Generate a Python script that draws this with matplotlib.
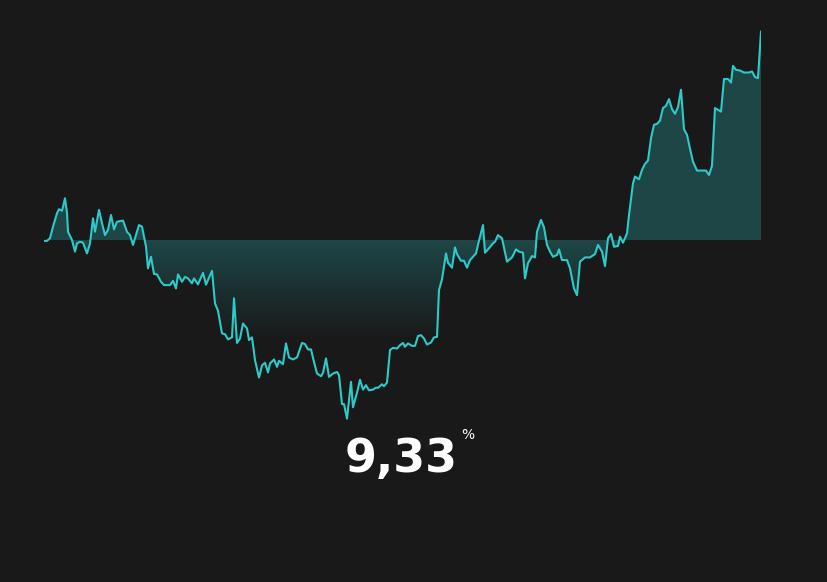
import numpy as np
import matplotlib
matplotlib.use("Agg")
import matplotlib.pyplot as plt

# cumulative return (%) by trading day
days = [0, 3, 6, 9, 13, 15, 18, 19, 21, 23, 24, 28, 31, 33, 36, 39, 43, 46, 49, 51,
        55, 58, 61, 64, 67, 70, 73, 79, 83, 86, 89, 92, 95, 98, 100, 102, 104, 107, 110, 113,
        117, 120, 126, 129, 132, 134, 138, 141, 144, 148, 150, 154, 159, 162, 168, 171, 174, 178, 181, 184,
        188, 190, 193, 196, 199, 203, 205, 208, 211, 215, 218, 221, 224, 226, 230, 233, 235, 239, 242, 245,
        249, 253, 258, 261, 264, 267, 270, 273, 277, 279, 282, 285, 289, 293, 295, 298, 300, 303, 307, 309,
        313, 316, 319, 322, 325, 329, 332, 334, 338, 340, 343, 346, 349, 353, 356, 359, 361, 364, 368, 371,
        374, 377, 380, 383, 387, 390, 393, 395, 398, 402, 404, 408, 411, 413, 417, 420, 423, 426, 432, 435,
        439, 441, 445, 449, 451, 454, 458, 463, 468, 472, 475, 479, 481, 484, 488, 491, 493, 497, 500, 503,
        506, 509, 513, 515, 518, 523, 526, 530, 533, 536, 541, 546, 551, 554, 558, 561, 564, 567, 570, 574,
        576, 579, 583, 585, 589, 591, 595, 598, 601, 604, 607, 610, 613, 616, 619, 622, 625, 628, 631, 634,
        637, 640, 643, 647, 649, 653, 662, 665, 668, 671, 677, 680, 684, 687, 689, 692, 696, 700, 705, 708,
        711, 714, 717]
ret = [-0.04, -0.04, 0.08, 0.60, 1.20, 1.38, 1.31, 1.49, 1.87, 1.21, 0.37, 0.00, -0.52, -0.15, -0.08, -0.12, -0.60, -0.15, 0.97, 0.37,
       1.35, 0.75, 0.22, 0.45, 1.12, 0.48, 0.82, 0.87, 0.37, 0.22, -0.22, 0.22, 0.67, 0.60, 0.15, -0.30, -1.27, -0.75, -1.52, -1.54,
       -1.87, -2.02, -2.02, -1.83, -2.17, -1.54, -1.87, -1.65, -1.72, -1.94, -1.72, -1.99, -1.47, -2.00, -1.38, -2.84, -3.17, -4.18, -4.22, -4.45,
       -4.36, -2.61, -4.61, -4.41, -3.74, -3.96, -4.48, -4.36, -5.38, -6.16, -5.61, -5.50, -5.93, -5.53, -5.35, -5.68, -5.41, -5.56, -4.63, -5.26,
       -5.35, -5.26, -4.61, -4.66, -4.90, -4.90, -5.46, -5.98, -6.10, -5.95, -5.30, -6.13, -5.98, -5.91, -6.05, -7.35, -7.35, -8.00, -6.35, -7.49,
       -6.84, -6.26, -6.70, -6.50, -6.73, -6.70, -6.61, -6.62, -6.46, -6.55, -6.38, -4.93, -4.83, -4.86, -4.71, -4.61, -4.78, -4.63, -4.74, -4.74,
       -4.30, -4.26, -4.41, -4.68, -4.59, -4.36, -4.34, -2.24, -1.76, -0.60, -1.02, -1.24, -0.33, -0.63, -0.93, -0.93, -1.24, -0.90, -0.60, -0.03,
       0.67, -0.57, -0.37, -0.15, -0.08, 0.22, 0.08, -0.97, -0.78, -0.42, -0.52, -0.57, -1.72, -1.04, -0.72, -0.78, 0.37, 0.90, 0.57, -0.22,
       -0.52, -0.75, -0.67, -0.42, -0.90, -0.90, -1.27, -2.17, -2.47, -0.97, -0.78, -0.78, -0.63, -0.22, -0.52, -1.17, 0.08, 0.27, -0.30, -0.27,
       0.15, -0.12, 0.30, 1.12, 2.54, 2.84, 2.72, 3.14, 3.41, 3.56, 4.56, 5.16, 5.20, 5.35, 5.91, 6.01, 6.31, 5.86, 5.65, 5.95,
       6.73, 4.96, 4.71, 3.89, 3.51, 3.11, 3.11, 2.91, 3.32, 5.91, 5.75, 7.21, 7.21, 7.05, 7.80, 7.62, 7.59, 7.50, 7.50, 7.55,
       7.30, 7.25, 9.33]
total_label = "9,33"

bg = "#191919"
line_col = "#2ecaca"

days = np.array(days, dtype=float)
ret = np.array(ret)

fig = plt.figure(figsize=(8.28, 5.82), dpi=100, facecolor=bg)
# axes placed so that 0 sits at y=240px and 9.33 near the top
ax = fig.add_axes([44 / 828, 0.2423, 717 / 828, 0.729])
ax.set_facecolor(bg)
ax.set_xlim(0, 717)
ax.set_ylim(-9, 10)
ax.axis("off")

# gradient fill between line and zero, fading out below zero
poly = ax.fill_between(days, ret, 0, facecolor="none", edgecolor="none")
ys = np.linspace(-9, 10, 400)
alpha = np.clip((ys + 4.5) / 4.5, 0, 1) * 0.26
grad = np.zeros((len(ys), 1, 4))
grad[:, 0, 0] = 0x2e / 255
grad[:, 0, 1] = 0xca / 255
grad[:, 0, 2] = 0xca / 255
grad[:, 0, 3] = alpha
im = ax.imshow(grad, extent=[0, 717, -9, 10], origin="lower", aspect="auto", zorder=1)
im.set_clip_path(poly.get_paths()[0], transform=ax.transData)

ax.plot(days, ret, color=line_col, lw=1.5, zorder=2, solid_joinstyle="round")

fig.text(401 / 828, 1 - 472 / 582, total_label, color="white", fontsize=33,
         fontweight="bold", family="DejaVu Sans", ha="center", va="baseline")
fig.text(468 / 828, 1 - 439 / 582, "%", color="white", fontsize=10,
         family="DejaVu Sans", ha="center", va="baseline")

fig.savefig("out.png", dpi=100, facecolor=bg)
